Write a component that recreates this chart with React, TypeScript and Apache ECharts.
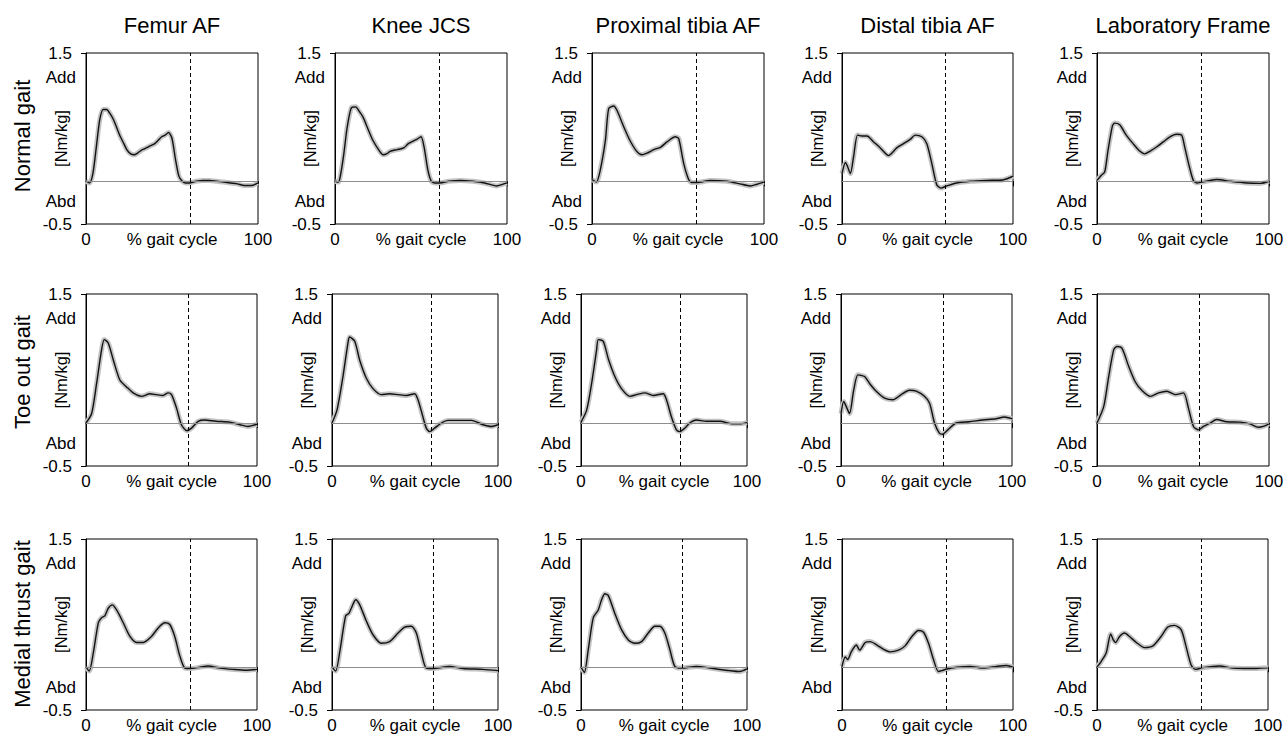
import React, { useEffect, useRef } from 'react';
import * as echarts from 'echarts';

const FONT = '"Liberation Sans", Arial, Helvetica, sans-serif';

const columnTitles = ['Femur AF', 'Knee JCS', 'Proximal tibia AF', 'Distal tibia AF', 'Laboratory Frame'];
const rowTitles = ['Normal gait', 'Toe out gait', 'Medial thrust gait'];
const toeOff = [60.6, 59.6, 60.7];
const yTicks = [-0.5, 1.5];
const xTicks = [0, 100];

// [% gait cycle, Nm/kg]
const normalFemur = [[0,0],[2,-0.02],[4,0.09],[6,0.4],[8,0.72],[10,0.84],[12,0.84],[14,0.79],[16,0.72],[18,0.62],[20,0.52],[22,0.44],[24,0.36],[26,0.32],[28,0.31],[30,0.33],[32,0.36],[34,0.38],[36,0.4],[38,0.42],[40,0.44],[42,0.48],[44,0.52],[46,0.54],[48,0.57],[50,0.5],[52,0.26],[54,0.06],[56,0],[58,-0.02],[60,-0.02],[64,0],[68,0.01],[72,0.01],[76,0],[80,-0.01],[84,-0.02],[88,-0.03],[92,-0.05],[96,-0.05],[100,-0.02]];
const normalKnee = [[0,0],[2,-0.01],[3,0.05],[5,0.3],[7,0.62],[9.5,0.86],[12,0.87],[14,0.82],[16.3,0.75],[19,0.62],[22,0.48],[26,0.35],[28,0.31],[30,0.32],[32,0.35],[36,0.37],[40,0.39],[42.6,0.44],[47.5,0.49],[50,0.52],[51.8,0.4],[54,0.13],[56,0],[58,-0.02],[61,-0.02],[66,0],[73,0.01],[80,0],[87,-0.02],[94,-0.055],[97,-0.04],[100,-0.02]];
const normalProx = [[0,0.02],[2.5,-0.01],[4.8,0.13],[7.8,0.48],[9.7,0.85],[12.6,0.88],[14.5,0.83],[18.4,0.64],[22,0.48],[26,0.35],[29,0.31],[32,0.33],[36,0.37],[40,0.4],[43.6,0.46],[48.4,0.52],[50.4,0.5],[53.3,0.21],[56.2,0.02],[58,-0.015],[61,-0.015],[68.8,0.01],[78.5,0],[86,-0.03],[92,-0.055],[96,-0.035],[100,-0.01]];
const normalDistal = [[0,0.09],[2,0.22],[3.3,0.17],[4.9,0.09],[6.8,0.29],[9.1,0.54],[11.7,0.53],[14.6,0.53],[18.5,0.46],[22.4,0.39],[27.2,0.3],[32,0.39],[36,0.44],[39.9,0.49],[42.8,0.54],[46.7,0.52],[49.6,0.44],[52.5,0.21],[55.4,-0.04],[57.8,-0.08],[61.3,-0.055],[67,-0.02],[75,0],[84.6,0.01],[94,0.015],[99,0.05],[100,0.06]];
const normalLab = [[0,0.01],[2.5,0.07],[4.5,0.11],[6.4,0.36],[9,0.65],[10.3,0.68],[13.2,0.66],[17,0.54],[21,0.44],[25,0.35],[27.8,0.32],[30.7,0.35],[34.6,0.4],[38.5,0.46],[42.4,0.52],[46.3,0.55],[49.2,0.54],[51,0.4],[53.7,0.17],[56,0.01],[58,-0.02],[61,-0.01],[69.6,0.02],[77.4,0],[87,-0.02],[95,-0.025],[100,0]];

const toeFemur = [[0,0],[3.3,0.11],[6.2,0.46],[9.1,0.85],[10.7,0.97],[13,0.93],[16,0.73],[19.8,0.5],[23.7,0.42],[27.6,0.35],[32.5,0.31],[37.4,0.34],[41,0.33],[45,0.32],[48,0.35],[50,0.33],[53,0.17],[55.8,-0.02],[59,-0.09],[61.7,-0.06],[65.6,0.02],[69.5,0.035],[76,0.02],[84,0.01],[90,-0.02],[94.7,-0.04],[100,-0.015]];
const toeKnee = [[0,0],[3,0.15],[6.6,0.54],[9.6,0.93],[10.6,1.0],[13.7,0.95],[16.7,0.73],[20.7,0.52],[24.7,0.4],[29.7,0.33],[34.7,0.34],[39.8,0.33],[44.8,0.32],[49.8,0.34],[51.8,0.27],[54.8,0.07],[56.8,-0.06],[58.8,-0.1],[61.8,-0.06],[65.9,0],[69.9,0.03],[76.9,0.03],[84,0.03],[91,-0.02],[96,-0.04],[100,-0.02]];
const toeProx = [[0,0.01],[3.4,0.15],[6.4,0.46],[9.4,0.85],[10.4,0.97],[13.4,0.95],[16.4,0.75],[20.4,0.54],[24.4,0.4],[29.5,0.31],[33.5,0.33],[38.5,0.35],[43.5,0.32],[49.5,0.34],[51.5,0.27],[54.5,0.07],[57.5,-0.08],[59.5,-0.1],[62.5,-0.06],[65.5,0],[69.5,0.035],[75.5,0.02],[83.6,0.02],[91.6,-0.01],[95.6,-0.01],[100,0.005]];
const toeDistal = [[0,0.11],[1.6,0.25],[3.1,0.19],[5,0.11],[7.4,0.38],[9.9,0.56],[13.8,0.54],[16.7,0.46],[20.6,0.37],[25.5,0.29],[30.4,0.27],[35.2,0.33],[40,0.38],[44,0.37],[48.8,0.31],[51.8,0.23],[54.7,0],[57.6,-0.12],[59.5,-0.13],[62.5,-0.08],[67.3,0],[75,0.015],[82.9,0.035],[90.7,0.05],[95.5,0.07],[100,0.05]];
const toeLab = [[0,0],[3.9,0.19],[6.8,0.54],[9.7,0.85],[11.6,0.89],[14.5,0.87],[18.4,0.66],[22.2,0.48],[26.1,0.38],[31,0.31],[35.8,0.35],[40.6,0.37],[45.5,0.33],[50.3,0.35],[53.2,0.17],[56.1,-0.04],[59,-0.08],[61.9,-0.04],[65.8,0],[69.6,0.04],[75.4,0.015],[83.2,0.01],[88.9,-0.01],[93.8,-0.05],[96.7,-0.04],[100,-0.01]];

const medFemur = [[0,0.005],[1.9,-0.045],[4.3,0.17],[7.2,0.52],[9.1,0.58],[11,0.6],[13,0.69],[15.4,0.73],[17.9,0.67],[21.8,0.52],[25.7,0.36],[29.6,0.29],[33.5,0.29],[38.3,0.36],[42.2,0.46],[46.1,0.52],[49,0.5],[51.9,0.36],[54.9,0.13],[57.8,-0.01],[60.7,-0.015],[66.5,0],[71.4,0.015],[78.2,-0.01],[86,-0.025],[93.8,-0.035],[100,-0.025]];
const medKnee = [[0,0.005],[2.2,-0.045],[4.6,0.17],[8.2,0.6],[10.2,0.63],[11.6,0.69],[14.3,0.79],[16.7,0.73],[20.7,0.54],[24.7,0.38],[29.7,0.28],[34.7,0.3],[39.8,0.4],[43.8,0.47],[47.8,0.48],[50.8,0.4],[53.8,0.17],[56.8,-0.01],[60.8,-0.015],[70.9,0.01],[78.9,-0.015],[91,-0.025],[100,-0.04]];
const medProx = [[0,0],[2,-0.06],[4.4,0.21],[7.4,0.58],[10.4,0.67],[12.4,0.79],[14.4,0.86],[16.4,0.84],[20.4,0.63],[24.4,0.44],[28.5,0.32],[32.5,0.28],[36.5,0.3],[40.5,0.4],[44.5,0.48],[47.5,0.48],[50.5,0.4],[53.5,0.21],[56.5,0.01],[60.5,-0.01],[69.5,0.01],[79.6,-0.015],[89.6,-0.04],[95.6,-0.05],[100,-0.02]];
const medDistal = [[0,0.01],[1.9,0.12],[3.3,0.09],[5.4,0.18],[8.4,0.26],[10.3,0.2],[13.6,0.29],[16.5,0.3],[20.4,0.26],[24.3,0.21],[28.2,0.18],[33,0.2],[36.9,0.25],[40.9,0.36],[44.7,0.43],[47.7,0.41],[50.6,0.28],[53.5,0.09],[56.4,-0.05],[58.4,-0.04],[61.3,-0.02],[67.1,0],[74.9,0.01],[82.7,-0.01],[90.5,0.01],[96.3,0.02],[100,0]];
const medLab = [[0,0.005],[2.5,0.07],[5.4,0.17],[8,0.39],[9.3,0.33],[10.9,0.29],[13.2,0.36],[16.1,0.4],[19,0.36],[23,0.29],[27.8,0.23],[32.7,0.25],[37.5,0.36],[41.4,0.47],[45.3,0.49],[49.2,0.44],[52,0.25],[55,0.03],[57.6,-0.025],[61.9,-0.005],[71.6,0.015],[79.4,-0.01],[89,-0.015],[100,-0.005]];

const curves = [
  [normalFemur, normalKnee, normalProx, normalDistal, normalLab],
  [toeFemur, toeKnee, toeProx, toeDistal, toeLab],
  [medFemur, medKnee, medProx, medDistal, medLab],
];

// layout (pixels)
const ROW_TOP = [53, 294, 539];
const ROW_H = [171, 172, 171];
const COL_LEFT = [
  [86, 335, 592, 842, 1097],
  [86, 332, 581, 841, 1097],
  [86, 332, 581, 842, 1097],
];
const COL_W = [
  [172, 172, 172, 171, 172],
  [171, 166, 166, 171, 172],
  [171, 166, 166, 171, 171],
];
const ROW_TITLE_Y = [136, 372, 624];
const SMALL = 17;

export default function App() {
  const ref = useRef<HTMLDivElement>(null);
  useEffect(() => {
    document.body.style.margin = '0';
    const chart = echarts.init(ref.current!, null, { renderer: 'svg' });
    const grids: any[] = [];
    const xAxes: any[] = [];
    const yAxes: any[] = [];
    const series: any[] = [];
    const graphics: any[] = [];
    const txt = { color: '#000', fontFamily: FONT };

    for (let r = 0; r < 3; r++) {
      for (let c = 0; c < 5; c++) {
        const i = r * 5 + c;
        const left = COL_LEFT[r][c];
        const top = ROW_TOP[r];
        const w = COL_W[r][c];
        const h = ROW_H[r];
        grids.push({
          left, top, width: w, height: h, show: true, borderColor: '#000', borderWidth: 1,
          backgroundColor: 'transparent', containLabel: false, outerBoundsMode: 'none',
        });
        xAxes.push({
          gridIndex: i, type: 'value', min: 0, max: 100,
          axisLine: { show: true, lineStyle: { color: '#000', width: 1 } },
          axisTick: { show: true, length: 5, customValues: xTicks, lineStyle: { color: '#000' } },
          axisLabel: { customValues: xTicks, margin: 7, fontSize: SMALL, ...txt },
          splitLine: { show: false },
          name: '% gait cycle', nameLocation: 'middle', nameGap: 7, nameMoveOverlap: false,
          nameTextStyle: { fontSize: SMALL, ...txt, verticalAlign: 'top' },
        });
        const labelVals = r === 2 && c === 3 ? [1.5] : yTicks;
        yAxes.push({
          gridIndex: i, type: 'value', min: -0.5, max: 1.5,
          axisLine: { show: true, lineStyle: { color: '#000', width: 1 } },
          axisTick: { show: true, length: 5, customValues: yTicks, lineStyle: { color: '#000' } },
          axisLabel: { customValues: labelVals, margin: 14, fontSize: SMALL, ...txt },
          splitLine: { show: false },
          name: '[Nm/kg]', nameLocation: 'middle', nameRotate: 90, nameGap: 17, nameMoveOverlap: false,
          nameTextStyle: { fontSize: 16.5, ...txt },
        });
        const data = curves[r][c];
        series.push({
          type: 'line', xAxisIndex: i, yAxisIndex: i, data, showSymbol: false, smooth: 0.25,
          lineStyle: { color: '#c4c4c4', width: 5 }, z: 2, silent: true,
          markLine: {
            silent: true, symbol: 'none', label: { show: false }, animation: false,
            data: [
              { yAxis: 0, lineStyle: { color: '#8e8e8e', width: 1, type: 'solid' } },
              { xAxis: toeOff[r], lineStyle: { color: '#000', width: 1, type: [4, 3] } },
            ],
          },
        });
        series.push({
          type: 'line', xAxisIndex: i, yAxisIndex: i, data, showSymbol: false, smooth: 0.25,
          lineStyle: { color: '#111', width: 1.4 }, z: 3, silent: true,
        });
        graphics.push({
          type: 'text', x: left - 10, y: top + 24,
          style: { text: 'Add', align: 'right', verticalAlign: 'middle', textAlign: 'right', textVerticalAlign: 'middle', fontSize: SMALL, fontFamily: FONT, fill: '#000' },
        });
        graphics.push({
          type: 'text', x: left - 10, y: top + h - 23,
          style: { text: 'Abd', align: 'right', verticalAlign: 'middle', textAlign: 'right', textVerticalAlign: 'middle', fontSize: SMALL, fontFamily: FONT, fill: '#000' },
        });
      }
    }
    for (let c = 0; c < 5; c++) {
      graphics.push({
        type: 'text', x: COL_LEFT[0][c] + COL_W[0][c] / 2, y: 25,
        style: { text: columnTitles[c], align: 'center', verticalAlign: 'middle', textAlign: 'center', textVerticalAlign: 'middle', fontSize: 22, fontFamily: FONT, fill: '#000' },
      });
    }
    for (let r = 0; r < 3; r++) {
      graphics.push({
        type: 'text', x: 22, y: ROW_TITLE_Y[r], rotation: Math.PI / 2,
        style: { text: rowTitles[r], align: 'center', verticalAlign: 'middle', textAlign: 'center', textVerticalAlign: 'middle', fontSize: 22, fontFamily: FONT, fill: '#000' },
      });
    }

    chart.setOption({
      animation: false,
      backgroundColor: '#fff',
      textStyle: { fontFamily: FONT },
      grid: grids,
      xAxis: xAxes,
      yAxis: yAxes,
      series,
      graphic: graphics,
    });
    return () => chart.dispose();
  }, []);
  return <div ref={ref} style={{ width: 1284, height: 738 }} />;
}
